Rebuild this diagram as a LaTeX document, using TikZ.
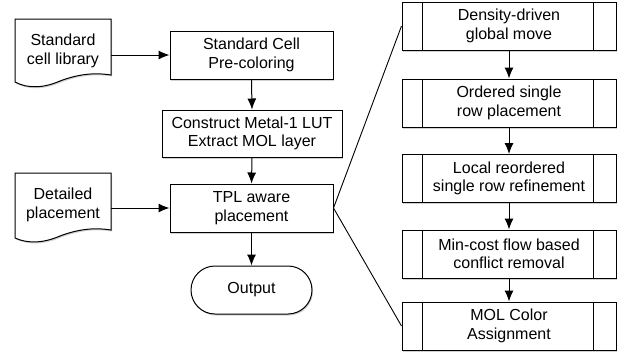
\documentclass[tikz,border=0pt]{standalone}
\usepackage{fontspec}
\setmainfont{Liberation Sans}
\usetikzlibrary{arrows.meta,shadows,calc}
\begin{document}
\begin{tikzpicture}[x=1pt,y=-1pt,
  font=\fontsize{16}{18.5}\selectfont,
  shd/.style={drop shadow={shadow xshift=1pt,shadow yshift=-1.5pt,opacity=0.3,fill=black!60}},
  box/.style={draw,line width=1pt,fill=white,align=center,inner sep=0pt,shd},
  proc/.style={box,minimum width=214pt,minimum height=48pt},
  docsh/.style={draw,line width=1pt,fill=white,shd},
  doctext/.style={align=center,inner sep=0pt,minimum width=96pt},
  arr/.style={-{Latex[length=11pt,width=9pt]},line width=1pt},
  ln/.style={line width=0.9pt}]
\useasboundingbox (0,0) rectangle (626,354);

% documents
\draw[docsh] (15,19) -- (111,19) -- (111,75) .. controls (92,72) and (76,75) .. (60,81) .. controls (44,88) and (28,89) .. (15,82) -- cycle;
\draw[docsh] (15,173) -- (111,173) -- (111,230) .. controls (92,227) and (76,230) .. (60,236) .. controls (44,243) and (28,244) .. (15,238) -- cycle;
\node[doctext] (lib) at (63,51) {Standard\\cell library};
\node[doctext] (det) at (63,205) {Detailed\\placement};

% main flow
\node[box,minimum width=163pt,minimum height=48pt] (pre) at (251.5,55) {Standard Cell\\Pre-coloring};
\node[box,minimum width=180pt,minimum height=47pt] (lut) at (252,133.5) {Construct Metal-1 LUT\\Extract MOL layer};
\node[box,minimum width=163pt,minimum height=48pt] (tpl) at (251.5,208) {TPL aware\\placement};
\node[box,minimum width=121pt,minimum height=48pt,rounded corners=24pt] (out) at (251.5,290) {Output};

% process boxes
\node[proc] (p1) at (509,26) {Density-driven\\global move};
\node[proc] (p2) at (509,103) {Ordered single\\row placement};
\node[proc] (p3) at (509,178.5) {Local reordered\\single row refinement};
\node[proc] (p4) at (509,254) {Min-cost flow based\\conflict removal};
\node[proc] (p5) at (509,326) {MOL Color\\Assignment};
\foreach \n in {p1,p2,p3,p4,p5}{
  \draw[ln] ($(\n.north west)+(21,0)$) -- ($(\n.south west)+(21,0)$);
  \draw[ln] ($(\n.north east)+(-23,0)$) -- ($(\n.south east)+(-23,0)$);
}

% connectors
\draw[arr] (lib.east |- pre.west) -- (pre.west);
\draw[arr] (det.east |- tpl.west) -- (tpl.west);
\draw[arr] (pre.south) -- (lut.north);
\draw[arr] (lut.south) -- (tpl.north);
\draw[arr] (tpl.south) -- (out.north);
\draw[arr] (p1.south) -- (p2.north);
\draw[arr] (p2.south) -- (p3.north);
\draw[arr] (p3.south) -- (p4.north);
\draw[arr] (p4.south) -- (p5.north);
\draw[ln] (p1.west) -- (tpl.east) -- (p5.west);
\end{tikzpicture}
\end{document}
